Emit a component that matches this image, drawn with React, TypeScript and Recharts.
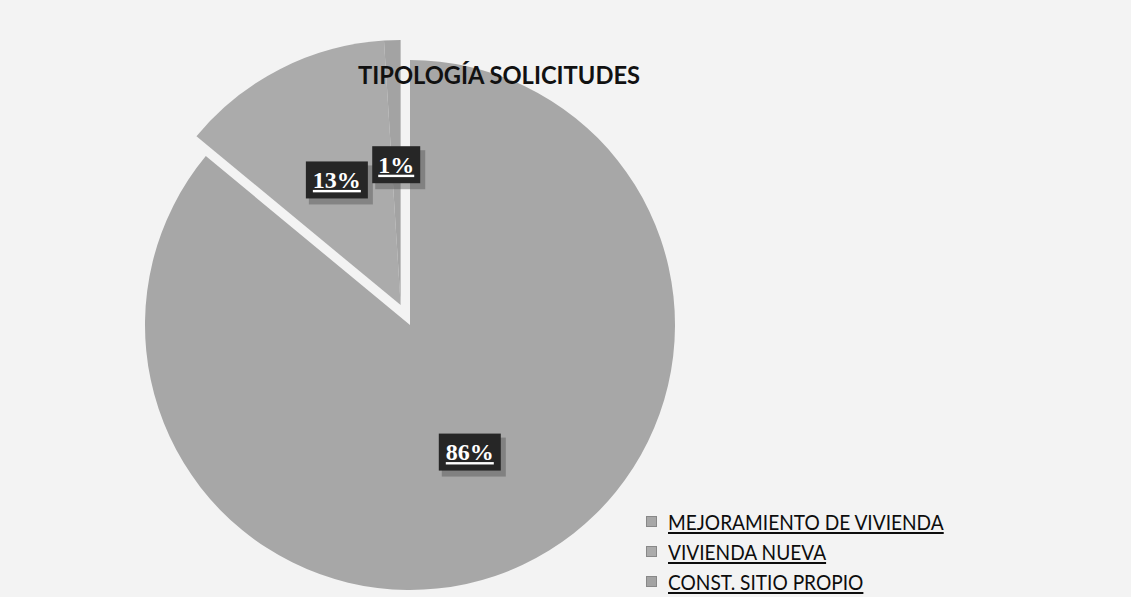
import React from 'react';
import { PieChart, Pie, Cell, Legend } from 'recharts';

const categories = ['MEJORAMIENTO DE VIVIENDA', 'VIVIENDA NUEVA', 'CONST. SITIO PROPIO'];
const shares = [86, 13, 1];
const exploded = [false, true, true];
const sliceColors = ['#a7a7a7', '#ababab', '#a3a3a3'];
const chartTitle = 'TIPOLOGÍA SOLICITUDES';

const data = categories.map((name, i) => ({ name, value: shares[i] }));

const W = 1131;
const H = 597;
const CX = 410;
const CY = 325;
const R = 265;
const EXPLODE = 22;

// direction of the exploded group (mid angle of the exploded slices, clockwise from 12 o'clock)
const total = shares.reduce((a, b) => a + b, 0);
const firstExp = exploded.indexOf(true);
const before = shares.slice(0, firstExp).reduce((a, b) => a + b, 0);
const expSum = shares.filter((_, i) => exploded[i]).reduce((a, b) => a + b, 0);
const midFrac = (before + expSum / 2) / total;
const midRad = midFrac * 2 * Math.PI;
const DX = Math.sin(midRad) * EXPLODE;
const DY = -Math.cos(midRad) * EXPLODE;

const RAD = Math.PI / 180;

const makeLabel = (show: (i: number) => boolean) => (props: any) => {
  const { cx, cy, midAngle, outerRadius, percent, index } = props;
  if (!show(index)) return null;
  const r = outerRadius * 0.53;
  const x = cx + Math.cos(-midAngle * RAD) * r;
  const y = cy + Math.sin(-midAngle * RAD) * r;
  const txt = `${Math.round(percent * 100)}%`;
  const w = 14 * txt.length + 20;
  const h = 37;
  return (
    <g>
      <rect x={x - w / 2 + 3} y={y - h / 2 + 4} width={w + 2} height={h + 2} fill="#555" opacity={0.45} />
      <rect x={x - w / 2} y={y - h / 2} width={w} height={h} fill="#262626" />
      <text
        x={x}
        y={y + 8}
        textAnchor="middle"
        fill="#ffffff"
        fontFamily="'Liberation Serif', 'DejaVu Serif', serif"
        fontWeight={700}
        fontSize={24}
        style={{ textDecoration: 'underline' }}
      >
        {txt}
      </text>
    </g>
  );
};

const LegendContent = () => (
  <div style={{ fontFamily: 'Lato, sans-serif', fontSize: 21, color: '#0d0d0d' }}>
    {categories.map((c, i) => (
      <div key={c} style={{ display: 'flex', alignItems: 'center', height: 30 }}>
        <span
          style={{
            display: 'inline-block',
            flex: 'none',
            width: 9,
            height: 9,
            background: sliceColors[i],
            border: '1px solid #888',
            marginRight: 11,
          }}
        />
        <span
          style={{
            display: 'inline-block',
            textDecoration: 'underline',
            textDecorationThickness: 2,
            textUnderlineOffset: 2,
            whiteSpace: 'nowrap',
            transform: 'scaleX(0.91)',
            transformOrigin: 'left center',
          }}
        >
          {c}
        </span>
      </div>
    ))}
  </div>
);

export default function App() {
  return (
    <div style={{ position: 'absolute', left: 0, top: 0, width: W, height: H, background: '#f3f3f3', overflow: 'hidden' }}>
      <PieChart width={W} height={H} margin={{ top: 0, right: 0, bottom: 0, left: 0 }}>
        <Pie
          data={data}
          dataKey="value"
          nameKey="name"
          cx={CX}
          cy={CY}
          outerRadius={R}
          startAngle={90}
          endAngle={-270}
          stroke="none"
          isAnimationActive={false}
          labelLine={false}
          label={makeLabel((i) => !exploded[i])}
          legendType="none"
        >
          {data.map((d, i) => (
            <Cell key={d.name} fill={exploded[i] ? 'transparent' : sliceColors[i]} />
          ))}
        </Pie>
        <Pie
          data={data}
          dataKey="value"
          nameKey="name"
          cx={CX + DX}
          cy={CY + DY}
          outerRadius={R}
          startAngle={90}
          endAngle={-270}
          stroke="none"
          isAnimationActive={false}
          labelLine={false}
          label={makeLabel((i) => exploded[i])}
          legendType="none"
        >
          {data.map((d, i) => (
            <Cell key={d.name} fill={exploded[i] ? sliceColors[i] : 'transparent'} />
          ))}
        </Pie>
        <Legend
          content={<LegendContent />}
          wrapperStyle={{ position: 'absolute', left: 646, top: 506, width: 420, bottom: 'auto' }}
        />
      </PieChart>
      <svg width={W} height={120} style={{ position: 'absolute', left: 0, top: 0, pointerEvents: 'none' }}>
        <text
          x={499}
          y={84}
          textAnchor="middle"
          fontFamily="Lato, sans-serif"
          fontWeight={700}
          fontSize={25}
          fill="#111"
          textLength={282}
          lengthAdjust="spacingAndGlyphs"
        >
          {chartTitle}
        </text>
      </svg>
    </div>
  );
}
